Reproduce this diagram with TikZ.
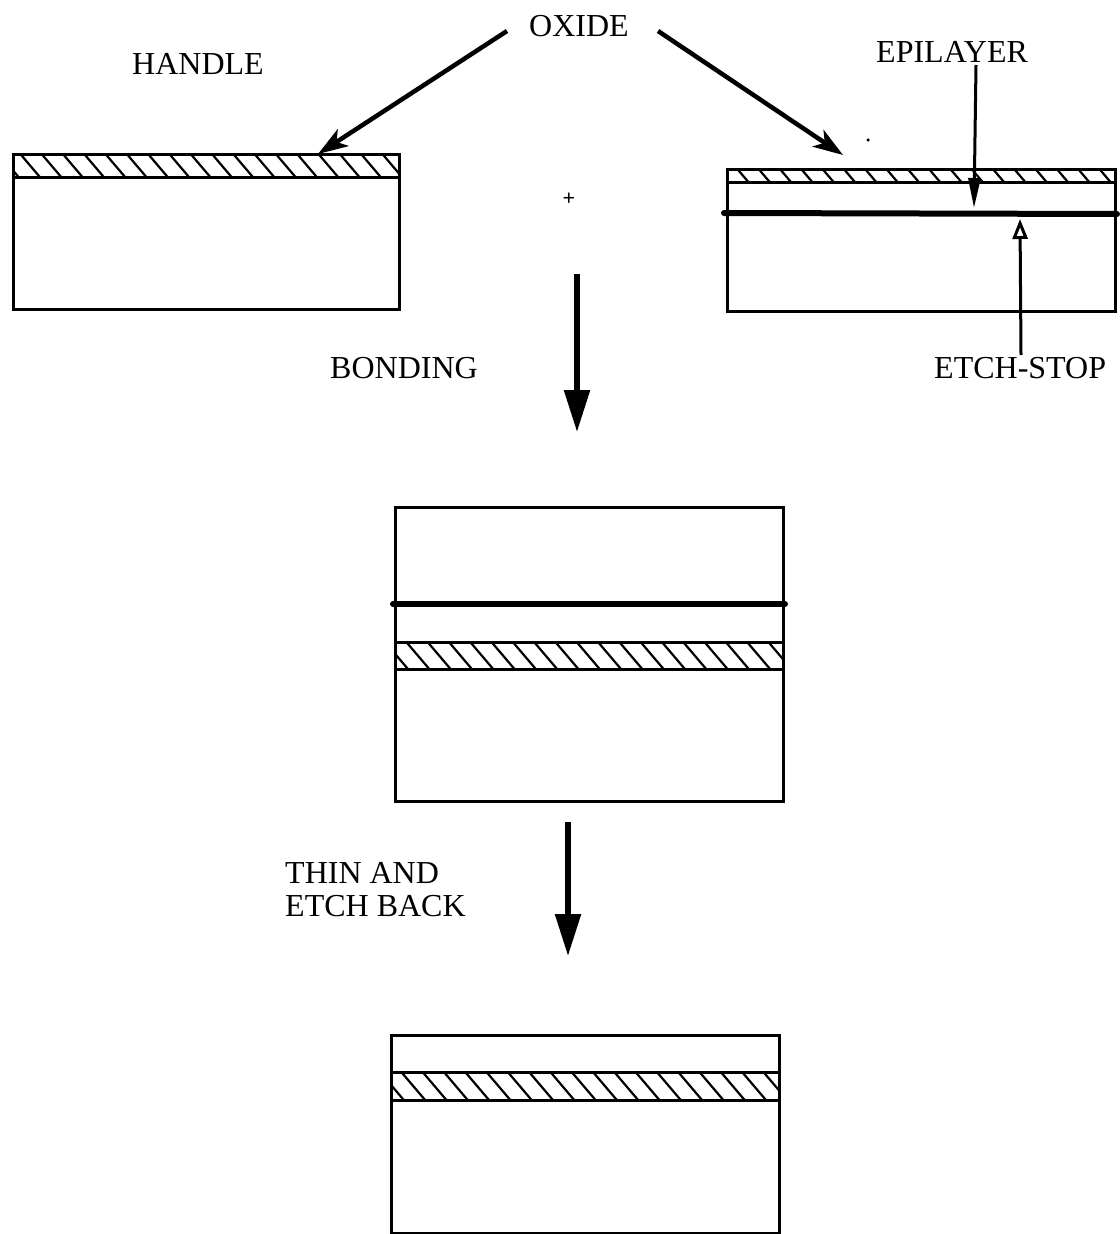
\documentclass[tikz,border=0pt]{standalone}
\usepackage{fontspec}
\setmainfont{Liberation Serif}
\usetikzlibrary{arrows.meta}
\tikzset{
  x=1pt,y=-1pt,
  wafer/.style={draw=black,line width=3pt,fill=none,inner sep=0pt,outer sep=0pt,rectangle},
  lbl/.style={inner sep=0pt,font=\fontsize{32pt}{33pt}\selectfont,text=black,align=left,anchor=west,text depth=0pt},
  oxarrow/.style={line width=4.5pt,-{Stealth[length=30pt,width=20pt,inset=8pt]}},
  bigarrow/.style={line width=5.5pt,-{Stealth[length=42pt,width=25pt,inset=0pt]}},
  thinarrow/.style={line width=3pt,-{Stealth[length=30pt,width=12pt,inset=0pt]}},
  openarrow/.style={line width=3pt,-{Stealth[length=20pt,width=15pt,inset=0pt,fill=white]}},
  band/.style={line width=3pt},
  etch/.style={line width=6pt,line cap=round},
  hatch/.style={line width=2.2pt}
}
\newcommand{\hatchband}[5]{% x1,y1,x2,y2,first-x
  \begin{scope}
    \clip (#1,#2) rectangle (#3,#4);
    \pgfmathsetmacro{\hh}{#4-#2}
    \foreach \k in {0,...,20}{
      \draw[hatch] ({#5+\k*21.3},#2) -- ({#5+\k*21.3+0.85*\hh},#4);
    }
  \end{scope}
  \draw[band] (#1,#2) -- (#3,#2) (#1,#4) -- (#3,#4);
}
\begin{document}
\begin{tikzpicture}
\useasboundingbox (0,0) rectangle (1119,1234);
% wafers
\node[wafer,minimum width=386pt,minimum height=155pt] (handle) at (206,231.5) {};
\node[wafer,minimum width=388pt,minimum height=142pt] (epi) at (921,240) {};
\node[wafer,minimum width=388pt,minimum height=294pt] (bonded) at (589,654) {};
\node[wafer,minimum width=388pt,minimum height=198pt] (final) at (585,1134) {};
% hatching
\hatchband{13}{154}{399}{177}{-1}
\hatchband{727}{169}{1115}{182}{716}
\hatchband{395}{642}{782}{669}{385}
\hatchband{391}{1072}{779}{1100}{380}
% etch-stop layers
\coordinate (es1l) at (724,213);
\coordinate (es1r) at (1117,214);
\coordinate (es2l) at (393,604);
\coordinate (es2r) at (785,604);
\draw[etch] (es1l) -- (es1r);
\draw[etch] (es2l) -- (es2r);
% labels
\node[lbl] (oxide) at (529,26) {OXIDE};
\node[lbl] (hlabel) at (132,64) {HANDLE};
\node[lbl] (epilabel) at (876,52) {EPILAYER};
\node[lbl] (etchlabel) at (934,368) {ETCH-STOP};
\node[lbl] (bondlabel) at (330,368) {BONDING};
\node[lbl,font=\fontsize{32pt}{33pt}\selectfont] (thinlabel) at (285,889) {THIN AND\\ETCH BACK};
\node[inner sep=0pt,font=\fontsize{22pt}{22pt}\bfseries\selectfont] (plus) at (569,199) {+};
\node[circle,fill=black,inner sep=0pt,minimum size=3.5pt] (speck) at (868,140) {};
% connector ends
\coordinate (a1s) at (507,31);
\coordinate (a1e) at (318,154);
\coordinate (a2s) at (658,31);
\coordinate (a2e) at (843,155);
\coordinate (a3s) at (976,65);
\coordinate (a3e) at (974,208);
\coordinate (a4s) at (1021,355);
\coordinate (a4e) at (1020,219);
\coordinate (a5s) at (577,274);
\coordinate (a5e) at (577,432);
\coordinate (a6s) at (568,822);
\coordinate (a6e) at (568,956);
% connectors
\draw[oxarrow] (a1s) -- (a1e);
\draw[oxarrow] (a2s) -- (a2e);
\draw[thinarrow] (a3s) -- (a3e);
\draw[openarrow] (a4s) -- (a4e);
\draw[bigarrow] (a5s) -- (a5e);
\draw[bigarrow] (a6s) -- (a6e);
\end{tikzpicture}
\end{document}
